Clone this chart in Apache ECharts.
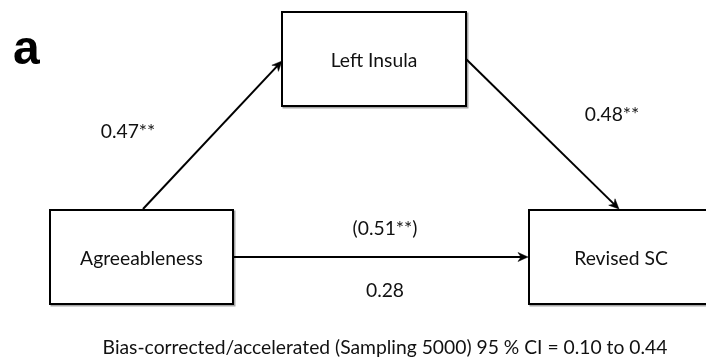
<!DOCTYPE html>
<html>
<head>
<meta charset="utf-8">
<script src="https://cdn.jsdelivr.net/npm/echarts@6/dist/echarts.min.js"></script>
<style>html,body{margin:0;padding:0;background:#fff}#c{width:706px;height:358px}</style>
</head>
<body>
<div id="c"></div>
<script>
// ---- data ----
var panelLabel = 'a';
var nodeNames = ['Agreeableness', 'Left Insula', 'Revised SC'];
var pathFrom = ['Agreeableness', 'Left Insula', 'Agreeableness'];
var pathTo = ['Left Insula', 'Revised SC', 'Revised SC'];
var pathLabels = ['0.47**', '0.48**', '(0.51**)'];
var directEffectLabel = '0.28';
var caption = 'Bias-corrected/accelerated (Sampling 5000) 95 % CI = 0.10 to 0.44';

// ---- layout (pixel-space axes) ----
var W = 706, H = 358;
var boxLayout = {
  'Agreeableness': {cx: 141.5, cy: 257, w: 183, h: 94},
  'Left Insula': {cx: 374, cy: 59, w: 184, h: 94},
  'Revised SC': {cx: 621, cy: 257, w: 184, h: 94}
};
var arrowLayout = [
  [143, 209, 282, 61],
  [466, 59, 619, 209],
  [233, 257, 528, 257]
];
var pathLabelPos = [[128, 132], [612, 115], [385, 229]];
var directLabelPos = [385, 291];
var FONT = 'Lato';
var FS = 19.3;

var boxData = nodeNames.map(function (n) {
  var b = boxLayout[n];
  return {name: n, value: [b.cx, b.cy, b.w, b.h]};
});
var arrowData = arrowLayout.map(function (a, i) {
  return {name: pathFrom[i] + '->' + pathTo[i], value: a};
});
var textData = pathLabels.map(function (t, i) {
  return {name: t, value: pathLabelPos[i]};
});
textData.push({name: directEffectLabel, value: directLabelPos});

var chart = echarts.init(document.getElementById('c'), null, {renderer: 'canvas'});
chart.setOption({
  backgroundColor: '#fff',
  animation: false,
  title: [
    {text: panelLabel, left: 8, top: 22,
     textStyle: {fontFamily: 'Liberation Sans', fontWeight: 'bold', fontSize: 48, color: '#000'}},
    {text: caption, left: 380, top: 333, textAlign: 'center',
     textStyle: {fontFamily: FONT, fontWeight: 'normal', fontSize: FS, color: '#111'}}
  ],
  grid: {left: 0, right: 0, top: 0, bottom: 0},
  xAxis: {type: 'value', min: 0, max: W, show: false},
  yAxis: {type: 'value', min: 0, max: H, inverse: true, show: false},
  series: [
    {
      type: 'custom', data: arrowData, silent: true, z: 2,
      renderItem: function (params, api) {
        var p1 = api.coord([api.value(0), api.value(1)]);
        var p2 = api.coord([api.value(2), api.value(3)]);
        var ang = Math.atan2(p2[1] - p1[1], p2[0] - p1[0]);
        var L = 10, Wd = 4.5;
        var ux = Math.cos(ang), uy = Math.sin(ang);
        var bx = p2[0] - ux * L, by = p2[1] - uy * L;
        var nx = -uy, ny = ux;
        var notch = [p2[0] - ux * L * 0.7, p2[1] - uy * L * 0.7];
        return {
          type: 'group',
          children: [
            {type: 'line', shape: {x1: p1[0], y1: p1[1], x2: p2[0] - ux * 3, y2: p2[1] - uy * 3},
             style: {stroke: '#000', lineWidth: 2}},
            {type: 'polygon', shape: {points: [
              p2, [bx + nx * Wd, by + ny * Wd], notch, [bx - nx * Wd, by - ny * Wd]]},
             style: {fill: '#000', stroke: '#000', lineWidth: 0.5}}
          ]
        };
      }
    },
    {
      type: 'custom', data: boxData, silent: true, z: 3,
      renderItem: function (params, api) {
        var c = api.coord([api.value(0), api.value(1)]);
        var s = api.size([api.value(2), api.value(3)]);
        var x = c[0] - s[0] / 2, y = c[1] - s[1] / 2;
        return {
          type: 'group',
          children: [
            {type: 'rect', shape: {x: x + 1.5, y: y + 1.5, width: s[0], height: s[1]},
             style: {fill: 'none', stroke: 'rgba(0,0,0,0.35)', lineWidth: 2}},
            {type: 'rect', shape: {x: x, y: y, width: s[0], height: s[1]},
             style: {fill: '#fff', stroke: '#000', lineWidth: 2}},
            {type: 'text', x: c[0], y: c[1] + 2,
             style: {text: nodeNames[params.dataIndex], fill: '#111', font: FS + 'px ' + FONT,
                     align: 'center', verticalAlign: 'middle'}}
          ]
        };
      }
    },
    {
      type: 'custom', data: textData, silent: true, z: 4,
      renderItem: function (params, api) {
        var c = api.coord([api.value(0), api.value(1)]);
        return {type: 'text', x: c[0], y: c[1],
          style: {text: textData[params.dataIndex].name, fill: '#111', font: FS + 'px ' + FONT,
                  align: 'center', verticalAlign: 'middle'}};
      }
    }
  ]
});
</script>
</body>
</html>
